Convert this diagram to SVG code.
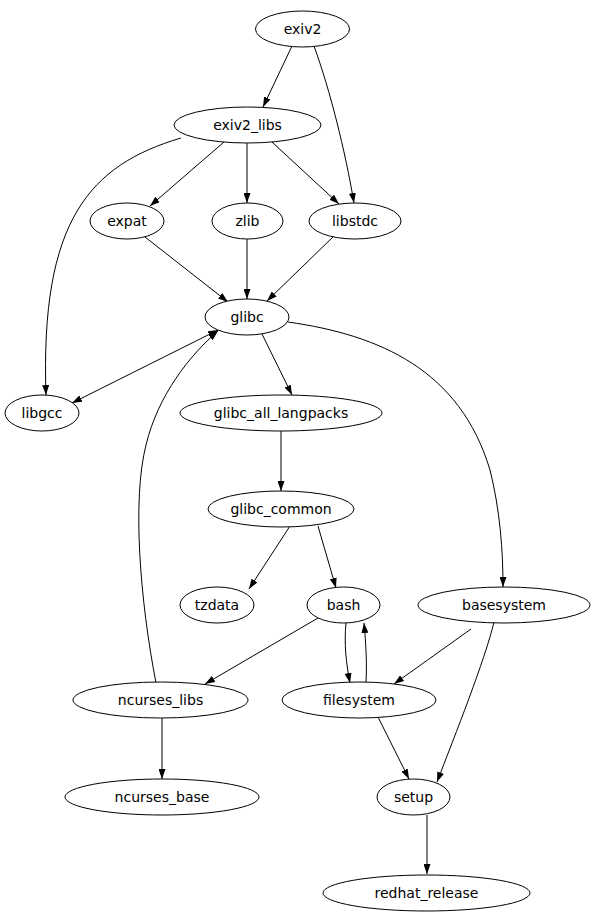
<svg xmlns="http://www.w3.org/2000/svg" width="595" height="923" viewBox="0 0 595 923">
<style>
.n ellipse{fill:#fff;stroke:#000;stroke-width:1}
.n text{font-family:"DejaVu Sans",sans-serif;font-size:14px;text-anchor:middle;fill:#000}
#edges path{fill:none;stroke:#000;stroke-width:1;marker-end:url(#ah)}
</style>
<defs>
<marker id="ah" markerUnits="userSpaceOnUse" markerWidth="10" markerHeight="7" refX="10" refY="3.5" orient="auto"><path d="M0,0L10,3.5L0,7z" fill="#000"/></marker>
<marker id="ahs" markerUnits="userSpaceOnUse" markerWidth="10" markerHeight="7" refX="0" refY="3.5" orient="auto"><path d="M10,0L0,3.5L10,7z" fill="#000"/></marker>
</defs>
<rect width="595" height="923" fill="#fff"/>
<g id="edges">
<path d="M292,46L263,107"/>
<path d="M314,46C330,90 345,150 354,203"/>
<path d="M181,138C90,165 40,220 46,395"/>
<path d="M224,142L150,206"/>
<path d="M247,143L247,203"/>
<path d="M272,142L339,204"/>
<path d="M145,237L228,302"/>
<path d="M247,239L247,299"/>
<path d="M335,235L267,301"/>
<path d="M218,330L72,403" style="marker-start:url(#ahs)"/>
<path d="M156,683C140,600 132,500 146,445C158,395 190,355 218,331"/>
<path d="M262,334L292,395"/>
<path d="M288,322C380,335 460,370 490,470C500,510 503,550 503,587"/>
<path d="M281,431L281,491"/>
<path d="M290,526L249,589"/>
<path d="M318,526L336,588"/>
<path d="M318,618L205,684"/>
<path d="M346,623C344,643 346,663 350,683"/>
<path d="M366,682C367,663 366,645 364,623"/>
<path d="M471,629L394,684"/>
<path d="M494,622C485,660 455,735 437,782"/>
<path d="M378,717L409,779"/>
<path d="M162,718L162,779"/>
<path d="M427,815L427,874"/>
</g>
<g id="exiv2" class="n"><ellipse cx="302.5" cy="29" rx="47" ry="18"/><text x="302.5" y="34">exiv2</text></g>
<g id="exiv2_libs" class="n"><ellipse cx="247.5" cy="125" rx="73.5" ry="18"/><text x="247.5" y="130">exiv2_libs</text></g>
<g id="expat" class="n"><ellipse cx="127" cy="221" rx="37" ry="18"/><text x="127" y="226">expat</text></g>
<g id="zlib" class="n"><ellipse cx="247.5" cy="221" rx="35.5" ry="18"/><text x="247.5" y="226">zlib</text></g>
<g id="libstdc" class="n"><ellipse cx="355" cy="221" rx="46" ry="18"/><text x="355" y="226">libstdc</text></g>
<g id="glibc" class="n"><ellipse cx="247" cy="317" rx="42" ry="18"/><text x="247" y="322">glibc</text></g>
<g id="libgcc" class="n"><ellipse cx="42" cy="413" rx="37" ry="18"/><text x="42" y="418">libgcc</text></g>
<g id="glibc_all_langpacks" class="n"><ellipse cx="281" cy="413" rx="101" ry="18"/><text x="281" y="418">glibc_all_langpacks</text></g>
<g id="glibc_common" class="n"><ellipse cx="281" cy="509" rx="73" ry="18"/><text x="281" y="514">glibc_common</text></g>
<g id="tzdata" class="n"><ellipse cx="217" cy="605" rx="37" ry="18"/><text x="217" y="610">tzdata</text></g>
<g id="bash" class="n"><ellipse cx="343.5" cy="605" rx="36.5" ry="18"/><text x="343.5" y="610">bash</text></g>
<g id="basesystem" class="n"><ellipse cx="504" cy="605" rx="86" ry="18"/><text x="504" y="610">basesystem</text></g>
<g id="ncurses_libs" class="n"><ellipse cx="160.5" cy="700" rx="87.5" ry="18"/><text x="160.5" y="705">ncurses_libs</text></g>
<g id="filesystem" class="n"><ellipse cx="359" cy="700" rx="77" ry="18"/><text x="359" y="705">filesystem</text></g>
<g id="ncurses_base" class="n"><ellipse cx="162" cy="797" rx="97" ry="18"/><text x="162" y="802">ncurses_base</text></g>
<g id="setup" class="n"><ellipse cx="413.5" cy="797" rx="36.5" ry="18"/><text x="413.5" y="802">setup</text></g>
<g id="redhat_release" class="n"><ellipse cx="426.5" cy="893" rx="103.5" ry="18"/><text x="426.5" y="898">redhat_release</text></g>
</svg>
